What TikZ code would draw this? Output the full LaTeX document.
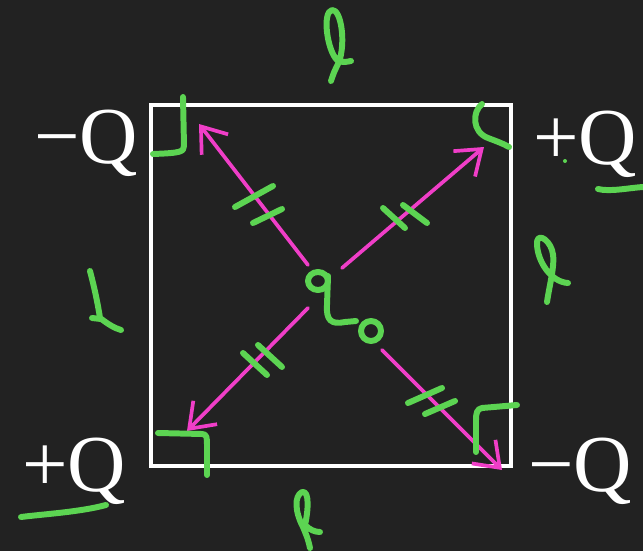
\documentclass[tikz,border=0pt]{standalone}
\usepackage{fontspec}
\setmainfont{Liberation Serif}
\usetikzlibrary{arrows.meta}
\definecolor{bg}{RGB}{34,34,34}
\definecolor{grn}{RGB}{92,212,82}
\definecolor{mag}{RGB}{240,62,200}
\begin{document}
\begin{tikzpicture}[x=0.02cm,y=-0.02cm,
  charge/.style={text=white, font=\fontsize{46}{50}\selectfont, inner sep=0pt, anchor=base west},
  ink/.style={draw=grn, line width=3.4pt, line cap=round, line join=round},
  vec/.style={draw=mag, line width=2.1pt, line cap=round, -{Straight Barb[length=13pt, width=19pt, line width=2.1pt]}},
  sq/.style={draw=white, line width=2pt}]
\fill[bg] (0,0) rectangle (643,551);
\useasboundingbox (0,0) rectangle (643,551);
% square
\draw[sq] (151,105) rectangle (511,466);
% charges
\node[charge] (tl) at (34,163) {−Q};
\node[charge] (tr) at (533,164) {+Q};
\node[charge] (bl) at (22,491) {+Q};
\node[charge] (br) at (528,491) {−Q};
% arrow coordinates
\coordinate (s1) at (308,265); \coordinate (t1) at (199,124);
\coordinate (s2) at (342,268); \coordinate (t2) at (484,147);
\coordinate (s3) at (308,308); \coordinate (t3) at (187,431);
\coordinate (s4) at (382,350); \coordinate (t4) at (502,470);
\draw[vec] (s1) -- (t1);
\draw[vec] (s2) -- (t2);
\draw[vec] (s3) -- (t3);
\draw[vec] (s4) -- (t4);
% ticks
\draw[ink] (235,207) -- (273,186);
\draw[ink] (253,223) -- (282,209);
\draw[ink] (383,208) -- (405,228);
\draw[ink] (403,205) -- (427,223);
\draw[ink] (243,353) -- (267,375);
\draw[ink] (258,345) -- (282,367);
\draw[ink] (408,403) -- (442,388);
\draw[ink] (425,414) -- (455,401);
% corner marks
\draw[ink] (183,97) -- (184,146) .. controls (184,152) and (180,153) .. (153,154);
\draw[ink] (482,104) .. controls (472,112) and (472,132) .. (488,138) .. controls (496,141) and (504,144) .. (509,147);
\draw[ink] (158,433) -- (202,434) .. controls (207,434) and (207,438) .. (207,445) -- (207,475);
\draw[ink] (517,405) -- (482,408) .. controls (477,409) and (476,413) .. (476,420) -- (476,452);
% q0
\draw[ink] (318,281) circle [x radius=10, y radius=9];
\draw[ink] (328,276) -- (327,305) .. controls (326,320) and (331,325) .. (345,322) -- (356,321);
\draw[ink] (371,331) ellipse [x radius=10, y radius=10];
% side labels l
\draw[ink] (331,81) .. controls (334,72) .. (339,62) .. controls (346,42) and (341,9) .. (332,10) .. controls (322,12) and (327,50) .. (337,60) .. controls (341,63) and (346,62) .. (351,61);
\draw[ink] (90,271) .. controls (95,290) and (98,305) .. (100,318) .. controls (108,324) and (114,328) .. (121,330);
\draw[ink] (92,318) -- (101,319);
\draw[ink] (547,302) .. controls (550,282) and (556,262) .. (552,250) .. controls (548,238) and (536,232) .. (537,245) .. controls (538,262) and (551,282) .. (568,283);
\draw[ink] (310,548) .. controls (308,538) and (305,532) .. (303,527) .. controls (295,512) and (294,496) .. (302,492) .. controls (310,490) and (308,512) .. (305,525) .. controls (310,530) and (315,532) .. (320,532);
% underlines and dot
\draw[ink] (598,189) .. controls (610,192) and (628,188) .. (643,187);
\draw[ink] (21,517) .. controls (45,514) and (80,512) .. (106,505);
\fill[grn] (565,161) circle [radius=2];
\end{tikzpicture}
\end{document}
